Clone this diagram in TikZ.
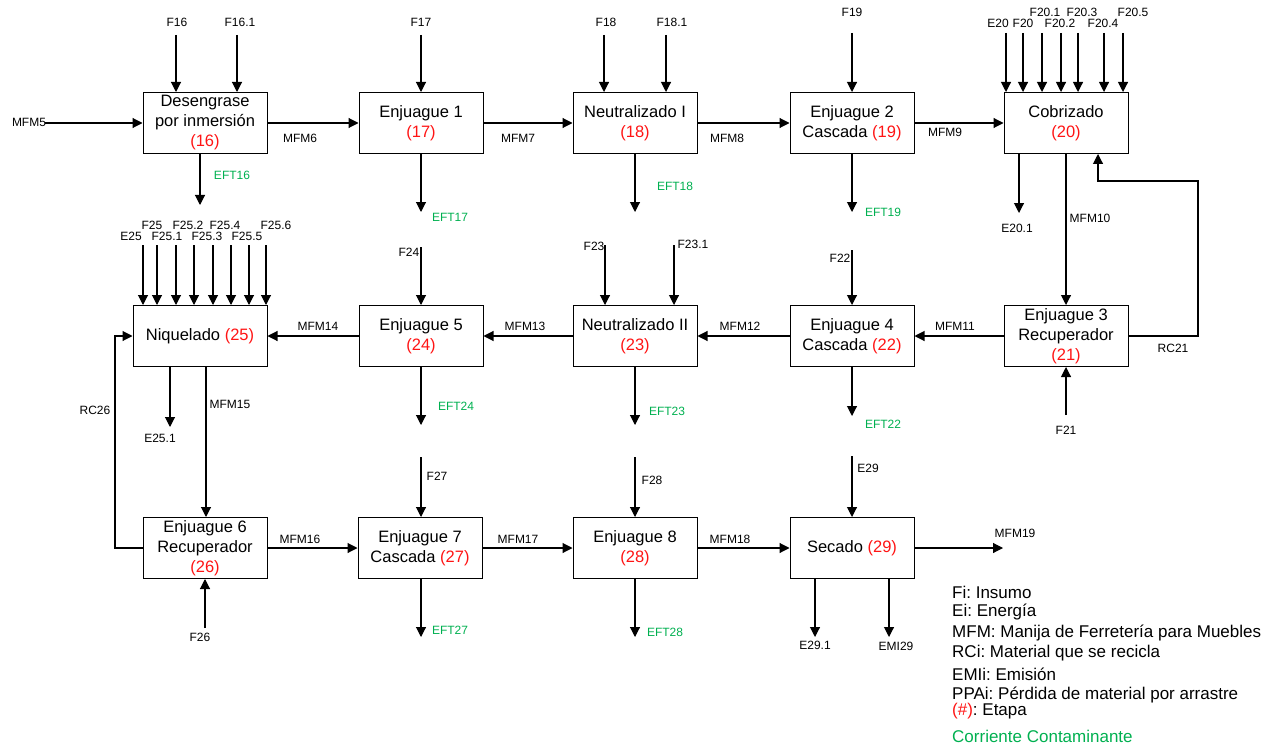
\documentclass[tikz,border=0pt]{standalone}
\usepackage{fontspec}
\setmainfont{Liberation Sans}
\usetikzlibrary{arrows.meta}
\definecolor{stred}{RGB}{255,20,20}
\definecolor{effgreen}{RGB}{0,176,80}
\newcommand\bxfont{\fontsize{16.5}{20}\selectfont}
\newcommand\lbfont{\fontsize{12}{13}\selectfont}
\newcommand\lgfont{\fontsize{17}{20}\selectfont}
\newcommand\etp[1]{{\color{stred}#1}}
\frenchspacing
\begin{document}
\begin{tikzpicture}[x=1pt,y=-1pt,
  box/.style={draw, line width=1pt, minimum width=124pt, minimum height=61pt, inner sep=0pt, align=center, font=\bxfont},
  lbl/.style={inner sep=0pt, font=\lbfont},
  grn/.style={lbl, text=effgreen},
  lgd/.style={inner sep=0pt, anchor=west, font=\lgfont},
  arr/.style={line width=1.1pt, -{Triangle[length=10pt,width=10pt]}},
  ln/.style={line width=1.1pt}]
\useasboundingbox (0,0) rectangle (1284,746);
% ---------- boxes ----------
\node[box] (b16) at (205,123) {Desengrase\\por inmersión\\\etp{(16)}};
\node[box] (b17) at (421,123) {Enjuague 1\\\etp{(17)}};
\node[box] (b18) at (635,123) {Neutralizado I\\\etp{(18)}};
\node[box] (b19) at (852,123) {Enjuague 2\\Cascada \etp{(19)}};
\node[box] (b20) at (1066,123) {Cobrizado\\\etp{(20)}};
\node[box] (b21) at (1066,336) {Enjuague 3\\Recuperador\\\etp{(21)}};
\node[box] (b22) at (852,336) {Enjuague 4\\Cascada \etp{(22)}};
\node[box] (b23) at (635,336) {Neutralizado II\\\etp{(23)}};
\node[box] (b24) at (421,336) {Enjuague 5\\\etp{(24)}};
\node[box, minimum width=134pt] (b25) at (200,336) {Niquelado \etp{(25)}};
\node[box] (b26) at (205,548) {Enjuague 6\\Recuperador\\\etp{(26)}};
\node[box] (b27) at (420,548) {Enjuague 7\\Cascada \etp{(27)}};
\node[box] (b28) at (635,548) {Enjuague 8\\\etp{(28)}};
\node[box] (b29) at (852,548) {Secado \etp{(29)}};
% ---------- main flow ----------
\coordinate (mfm5) at (45,123);
\draw[arr] (mfm5) -- (b16.west);
\node[lbl] (lmfm5) at (29,122) {MFM5};
\draw[arr] (b16.east) -- (b17.west); \node[lbl] (lmfm6) at (300,138) {MFM6};
\draw[arr] (b17.east) -- (b18.west); \node[lbl] (lmfm7) at (518,138) {MFM7};
\draw[arr] (b18.east) -- (b19.west); \node[lbl] (lmfm8) at (727,138) {MFM8};
\draw[arr] (b19.east) -- (b20.west); \node[lbl] (lmfm9) at (945,132) {MFM9};
\draw[arr] (b20.south) -- (b21.north); \node[lbl] (lmfm10) at (1090,218) {MFM10};
\draw[arr] (b21.west) -- (b22.east); \node[lbl] (lmfm11) at (955,326) {MFM11};
\draw[arr] (b22.west) -- (b23.east); \node[lbl] (lmfm12) at (740,326) {MFM12};
\draw[arr] (b23.west) -- (b24.east); \node[lbl] (lmfm13) at (525,326) {MFM13};
\draw[arr] (b24.west) -- (b25.east); \node[lbl] (lmfm14) at (318,326) {MFM14};
\coordinate (m15) at (206,366);
\draw[arr] (m15 |- b25.south) -- (m15 |- b26.north); \node[lbl] (lmfm15) at (230,404) {MFM15};
\draw[arr] (b26.east) -- (b27.west); \node[lbl] (lmfm16) at (300,539) {MFM16};
\draw[arr] (b27.east) -- (b28.west); \node[lbl] (lmfm17) at (518,539) {MFM17};
\draw[arr] (b28.east) -- (b29.west); \node[lbl] (lmfm18) at (730,539) {MFM18};
\coordinate (mfm19) at (1003,548);
\draw[arr] (b29.east) -- (mfm19); \node[lbl] (lmfm19) at (1015,533) {MFM19};
% ---------- recycles ----------
\coordinate (rc21a) at (1198,181);
\coordinate (rc21b) at (1098,153);
\draw[arr] (b21.east) -| (rc21a) -| (rc21b |- b20.south);
\node[lbl] (lrc21) at (1173,348) {RC21};
\coordinate (rc26a) at (115,548);
\draw[arr] (b26.west) -- (rc26a) |- (b25.west);
\node[lbl] (lrc26) at (95,410) {RC26};
% ---------- inputs ----------
\foreach \nm/\x/\lx/\ly/\t/\b/\ys in {
  f16/176/177/22/F16/b16/35, f161/237/240/22/F16.1/b16/35,
  f17/421/421/22/F17/b17/35,
  f18/604/606/22/F18/b18/35, f181/666/672/22/F18.1/b18/35,
  f19/852/852/12/F19/b19/33,
  e20/1006/998/23/E20/b20/33, f20/1023/1023/23/F20/b20/33,
  f201/1042/1045/12/F20.1/b20/33, f202/1061/1060/23/F20.2/b20/33,
  f203/1078/1082/12/F20.3/b20/33, f204/1104/1103/23/F20.4/b20/33,
  f205/1123/1133/12/F20.5/b20/33,
  f22/852/840/258/F22/b22/250,
  f23/605/594/246/F23/b23/245, f231/674/693/244/F23.1/b23/245,
  f24/421/409/252/F24/b24/247,
  e25/143/131/236/E25/b25/245, f25/157/152/225/F25/b25/245,
  f251/176/167/236/F25.1/b25/245, f252/194/188/225/F25.2/b25/245,
  f253/213/207/236/F25.3/b25/245, f254/231/225/225/F25.4/b25/245,
  f255/249/247/236/F25.5/b25/245, f256/266/276/225/F25.6/b25/245,
  f27/421/437/476/F27/b27/457,
  f28/635/652/480/F28/b28/457,
  e29/852/868/468/E29/b29/456}{
  \coordinate (\nm) at (\x,\ys);
  \draw[arr] (\nm) -- (\nm |- \b.north);
  \node[lbl] (l\nm) at (\lx,\ly) {\t};
}
% inputs from below
\coordinate (f21) at (1066,415);
\draw[arr] (f21) -- (b21.south); \node[lbl] (lf21) at (1066,430) {F21};
\coordinate (f26) at (205,628);
\draw[arr] (f26) -- (b26.south); \node[lbl] (lf26) at (200,637) {F26};
% ---------- outputs ----------
\foreach \nm/\x/\ye/\lx/\ly/\t/\b/\st in {
  eft16/200/205/232/175/EFT16/b16/grn,
  eft17/421/212/450/217/EFT17/b17/grn,
  eft18/635/212/675/186/EFT18/b18/grn,
  eft19/852/212/883/212/EFT19/b19/grn,
  e201/1019/213/1017/228/E20.1/b20/lbl,
  e251/170/427/160/438/E25.1/b25/lbl,
  eft24/421/425/456/406/EFT24/b24/grn,
  eft23/635/425/667/411/EFT23/b23/grn,
  eft22/852/416/883/424/EFT22/b22/grn,
  eft27/421/637/450/630/EFT27/b27/grn,
  eft28/635/637/665/632/EFT28/b28/grn,
  e291/815/637/815/645/E29.1/b29/lbl,
  emi29/889/637/896/646/EMI29/b29/lbl}{
  \coordinate (\nm) at (\x,\ye);
  \draw[arr] (\nm |- \b.south) -- (\nm);
  \node[\st] (l\nm) at (\lx,\ly) {\t};
}
% ---------- legend ----------
\node[lgd] (lg1) at (952,592) {Fi: Insumo};
\node[lgd] (lg2) at (952,612) {Ei: Energía};
\node[lgd] (lg3) at (952,633) {MFM: Manija de Ferretería para Muebles};
\node[lgd] (lg4) at (952,653) {RCi: Material que se recicla};
\node[lgd] (lg5) at (952,674) {EMIi: Emisión};
\node[lgd] (lg6) at (952,695) {PPAi: Pérdida de material por arrastre};
\node[lgd] (lg7) at (952,711) {\etp{(\#)}: Etapa};
\node[lgd, text=effgreen] (lg8) at (952,736) {Corriente Contaminante};
\end{tikzpicture}
\end{document}
